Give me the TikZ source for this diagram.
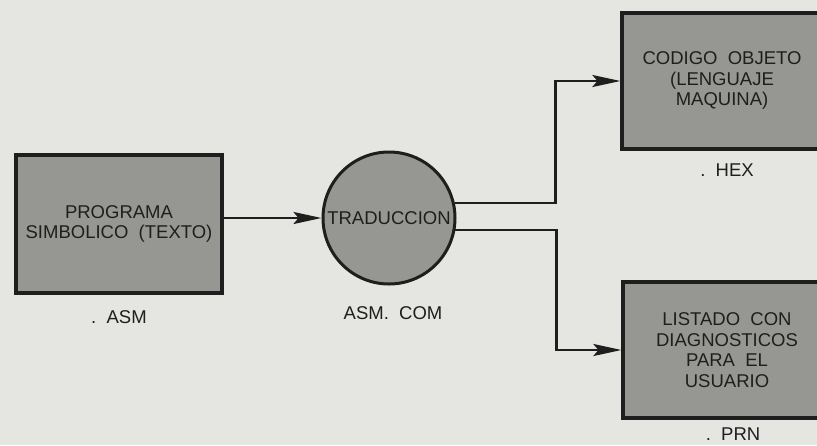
\documentclass[tikz,border=0pt]{standalone}
\usepackage{fontspec}
\setmainfont{Liberation Sans}
\usetikzlibrary{arrows.meta}
\definecolor{paper}{RGB}{229,229,225}
\definecolor{boxgray}{RGB}{150,150,147}
\definecolor{ink}{RGB}{30,30,30}
\tikzset{
  box/.style={draw=ink, fill=boxgray, line width=3.2pt, rectangle, inner sep=0pt,
    align=center, font=\fontsize{18.5}{20.5}\selectfont, text=ink},
  proc/.style={draw=ink, fill=boxgray, line width=3pt, circle, inner sep=0pt,
    minimum size=132pt, font=\fontsize{18.5}{20.5}\selectfont, text=ink},
  lbl/.style={font=\fontsize{18.5}{20.5}\selectfont, text=ink, inner sep=0pt},
  arr/.style={draw=ink, line width=2.4pt,
    -{Stealth[length=28pt, width=12pt, inset=5pt]}},
}
\begin{document}
\begin{tikzpicture}[x=1pt, y=1pt]
\useasboundingbox (0,0) rectangle (817,-445);
\clip (0,0) rectangle (817,-445);
\fill[paper] (0,0) rectangle (817,-445);

% nodes
\node[box, minimum width=206pt, minimum height=138pt] (src) at (119,-224)
  {PROGRAMA\\SIMBOLICO\ \ (TEXTO)};
\node[proc] (trad) at (389,-218) {TRADUCCION};
\node[box, minimum width=200pt, minimum height=136pt] (obj) at (722,-81)
  {\raisebox{6pt}{\begin{tabular}{@{}c@{}}CODIGO\ \ OBJETO\\(LENGUAJE\\MAQUINA)\end{tabular}}};
\node[box, minimum width=208pt, minimum height=136pt] (lst) at (727,-350)
  {LISTADO\ \ CON\\DIAGNOSTICOS\\PARA\ \ EL\\USUARIO};

% labels
\node[lbl] (asm) at (119,-317) {.\ \ ASM};
\node[lbl] (com) at (393,-313) {ASM.\ \ COM};
\node[lbl] (hex) at (727,-170) {.\ \ HEX};
\node[lbl] (prn) at (733,-434) {.\ \ PRN};

% connectors
\draw[arr] (src.east |- trad.center) -- (trad.west);
\draw[arr] (trad.13) -| ([xshift=-65pt]obj.west) -- (obj.west);
\draw[arr] (trad.-10.5) -| ([xshift=-65pt]lst.west) -- (lst.west);
\end{tikzpicture}
\end{document}
